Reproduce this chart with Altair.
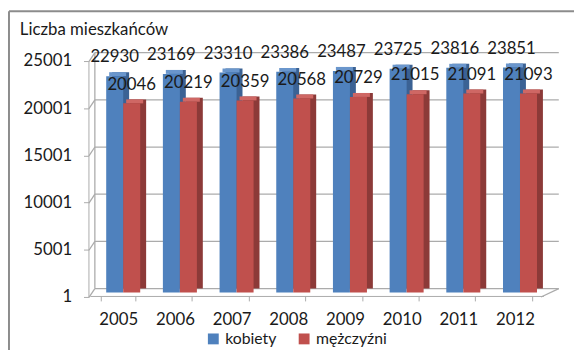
import altair as alt
import pandas as pd

years = ["2005", "2006", "2007", "2008", "2009", "2010", "2011", "2012"]
kobiety = [22930, 23169, 23310, 23386, 23487, 23725, 23816, 23851]
mezczyzni = [20046, 20219, 20359, 20568, 20729, 21015, 21091, 21093]
series = ["kobiety", "mężczyźni"]
y_ticks = [1, 5001, 10001, 15001, 20001, 25001]
title_text = "Liczba mieszkańców"

front_colors = ["#4f81bd", "#c0504d"]
side_colors = ["#3b6294", "#8c3a38"]
top_colors = ["#6a96cc", "#cf6764"]

rows = []
for i, y in enumerate(years):
    rows.append({"rok": y, "płeć": series[0], "v": kobiety[i]})
    rows.append({"rok": y, "płeć": series[1], "v": mezczyzni[i]})
df = pd.DataFrame(rows)
grid_df = pd.DataFrame({"t": y_ticks})
one = pd.DataFrame({"a": [0]})

W = 459.4
H = 239
FONT = "Lato"
GRID = "#ababab"
TXT = "#1a1a1a"

xscale = alt.Scale(domain=years, paddingInner=0.4, paddingOuter=0.2)
xaxis = alt.Axis(title=None, labelFont=FONT, labelFontSize=17, labelColor=TXT, labelAngle=0,
                 domainColor=GRID, tickColor=GRID, tickSize=5, tickBand="extent",
                 labelPadding=11, offset=8.5, translate=-4.5, grid=False)
yscale = alt.Scale(domain=[1, 25001], nice=False, zero=False)
yaxis = alt.Axis(title=None, values=y_ticks, format="d", labelFont=FONT, labelFontSize=17,
                 labelColor=TXT, domainColor=GRID, tickColor=GRID, tickSize=5,
                 labelPadding=12, offset=11, translate=5, grid=False)

grid = alt.Chart(grid_df).mark_rule(color=GRID, strokeWidth=1.3, yOffset=-4).encode(
    y=alt.Y("t:Q", scale=yscale, axis=yaxis), x=alt.value(0), x2=alt.value(470))
diag = alt.Chart(grid_df).mark_rule(color=GRID, strokeWidth=1.3, yOffset=5, y2Offset=-4).encode(
    y=alt.Y("t:Q", scale=yscale), y2="t:Q", x=alt.value(-6), x2=alt.value(0))
wall = alt.Chart(grid_df).mark_rule(color=GRID, strokeWidth=1.3, yOffset=-4, y2Offset=-4).encode(
    y=alt.Y("min(t):Q", scale=yscale), y2="max(t):Q", x=alt.value(0))
floor_diag = alt.Chart(one).mark_rule(color=GRID, strokeWidth=1.3).encode(
    x=alt.value(452), x2=alt.value(470), y=alt.value(H + 4.5), y2=alt.value(H - 4))

sides, tops, fronts, labels = [], [], [], []
for k, s in enumerate(series):
    b = alt.Chart(df).transform_filter(alt.datum["płeć"] == s)
    x = alt.X("rok:N", bandPosition=k * 0.5, scale=xscale, axis=xaxis)
    x2 = alt.X2("rok:N", bandPosition=(k + 1) * 0.5)
    sides.append(b.mark_bar(color=side_colors[k], xOffset=6, x2Offset=6, yOffset=-4, y2Offset=-4).encode(
        x=x, x2=x2, y=alt.Y("v:Q", scale=yscale), y2=alt.datum(1)))
    tops.append(b.mark_bar(color=top_colors[k], xOffset=3, x2Offset=3, yOffset=-4, y2Offset=0).encode(
        x=x, x2=x2, y=alt.Y("v:Q", scale=yscale), y2="v:Q"))
    fronts.append(b.mark_bar().encode(
        x=x, x2=x2, y=alt.Y("v:Q", scale=yscale), y2=alt.datum(1),
        color=alt.Color("płeć:N", scale=alt.Scale(domain=series, range=front_colors),
                        legend=alt.Legend(title=None, orient="none", direction="horizontal",
                                          legendX=112, legendY=278, symbolType="square",
                                          symbolSize=121, symbolStrokeWidth=0,
                                          labelFont=FONT, labelFontSize=16, labelColor=TXT,
                                          labelOffset=4, columnPadding=20, padding=0))))
    labels.append(b.mark_text(font=FONT, fontSize=17, color=TXT, baseline="middle", dy=-19).encode(
        x=alt.X("rok:N", bandPosition=k * 0.5 + 0.25, scale=xscale),
        y=alt.Y("v:Q", scale=yscale), text="v:Q"))

title = alt.Chart(one).mark_text(font=FONT, fontSize=17, color=TXT, align="left",
                                 baseline="middle").encode(
    x=alt.value(-76), y=alt.value(-27), text=alt.datum(title_text))

border_top = alt.Chart(one).mark_rule(color="#8c8c8c", strokeWidth=2).encode(
    x=alt.value(-87), x2=alt.value(486), y=alt.value(-46))
border_left = alt.Chart(one).mark_rule(color="#8c8c8c", strokeWidth=2).encode(
    x=alt.value(-87), y=alt.value(-46), y2=alt.value(310))

chart = alt.layer(
    grid, diag, wall, floor_diag, *sides, *tops, *fronts, *labels, title, border_top, border_left
).properties(
    width=W, height=H,
    autosize=alt.AutoSizeParams(type="none"),
    padding={"left": 88, "top": 47, "right": 26, "bottom": 56},
).configure_view(stroke=None)

chart.save("out.html", embed_options={"renderer": "svg", "actions": False})
